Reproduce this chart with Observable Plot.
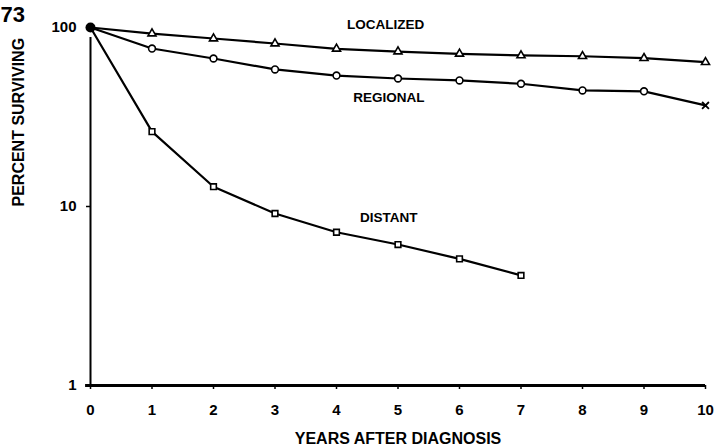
<!DOCTYPE html>
<html>
<head>
<meta charset="utf-8">
<script src="https://cdn.jsdelivr.net/npm/d3@7"></script>
<script src="https://cdn.jsdelivr.net/npm/@observablehq/plot@0.6"></script>
<style>
  html, body { margin: 0; padding: 0; background: #fff; }
  #chart svg { display: block; }
</style>
</head>
<body>
<div id="chart"></div>
<script>
// Survival by stage at diagnosis (percent surviving, log scale)
const years = [0, 1, 2, 3, 4, 5, 6, 7, 8, 9, 10];
const localized = [100, 92.5, 86.8, 81.4, 76.0, 73.4, 71.3, 69.8, 69.1, 67.4, 64.0];
const regional = [100, 76.3, 67.1, 58.3, 53.9, 51.9, 50.6, 48.5, 44.5, 44.0, 36.7];
const distantYears = [0, 1, 2, 3, 4, 5, 6, 7];
const distant = [100, 26.2, 12.9, 9.14, 7.18, 6.13, 5.10, 4.12];

const seriesNames = ["LOCALIZED", "REGIONAL", "DISTANT"];
const yTicks = [1, 10, 100];
const yTickLabels = ["1", "10", "100"];
const xTicks = years;
const figureNumber = "73";
const xTitle = "YEARS AFTER DIAGNOSIS";
const yTitle = "PERCENT SURVIVING";

const rows = (name, xs, ys) => xs.map((x, i) => ({series: name, year: x, pct: ys[i]}));
const loc = rows(seriesNames[0], years, localized);
const reg = rows(seriesNames[1], years, regional);
const dis = rows(seriesNames[2], distantYears, distant);
const all = [...loc, ...reg, ...dis];

const open = {stroke: "black", fill: "white", strokeWidth: 1.6};

const chart = Plot.plot({
  width: 715,
  height: 447,
  marginLeft: 90,
  marginRight: 10,
  marginTop: 27,
  marginBottom: 62,
  style: {
    fontFamily: "'Liberation Sans', Arial, sans-serif",
    fontWeight: "bold",
    color: "#000",
    background: "#fff"
  },
  x: {domain: [0, 10]},
  y: {type: "log", domain: [1, 100]},
  marks: [
    // axes
    Plot.ruleY([1], {x1: -0.08, x2: 10, strokeWidth: 3}),
    Plot.ruleX([0], {y1: 1, y2: 88, strokeWidth: 2}),
    Plot.axisX({
      ticks: xTicks, tickSize: 4, tickPadding: 15, fontSize: 15,
      label: null, strokeWidth: 1.5
    }),
    Plot.axisY({
      ticks: yTicks, tickFormat: (d) => yTickLabels[yTicks.indexOf(d)],
      tickSize: 4, tickPadding: 10, fontSize: 15, label: null, strokeWidth: 1.5
    }),
    Plot.text([xTitle], {frameAnchor: "bottom", lineAnchor: "bottom", dy: 58, fontSize: 16}),
    Plot.text([yTitle], {frameAnchor: "left", rotate: -90, dx: -72, fontSize: 16}),
    Plot.text([figureNumber], {
      frameAnchor: "top-left", textAnchor: "start", lineAnchor: "bottom",
      dx: -90, dy: -6, fontSize: 22
    }),

    // survival curves
    Plot.line(all, {x: "year", y: "pct", z: "series", stroke: "black", strokeWidth: 2.2}),
    Plot.dot(loc.slice(1), {x: "year", y: "pct", symbol: "triangle", r: 3, ...open}),
    Plot.dot(reg.slice(1, -1), {x: "year", y: "pct", symbol: "circle", r: 3.4, ...open}),
    Plot.dot(reg.slice(-1), {x: "year", y: "pct", symbol: "times", r: 3.2, stroke: "black", strokeWidth: 1.8}),
    Plot.dot(dis.slice(1), {x: "year", y: "pct", symbol: "square", r: 3.2, ...open}),
    Plot.dot(loc.slice(0, 1), {x: "year", y: "pct", r: 5, fill: "black"}),

    // series labels
    Plot.text(seriesNames, {
      x: [4.8, 4.85, 4.85],
      y: [104, 40.5, 8.7],
      text: (d) => d,
      fontSize: 13.5
    })
  ]
});

document.getElementById("chart").appendChild(chart);
</script>
</body>
</html>
